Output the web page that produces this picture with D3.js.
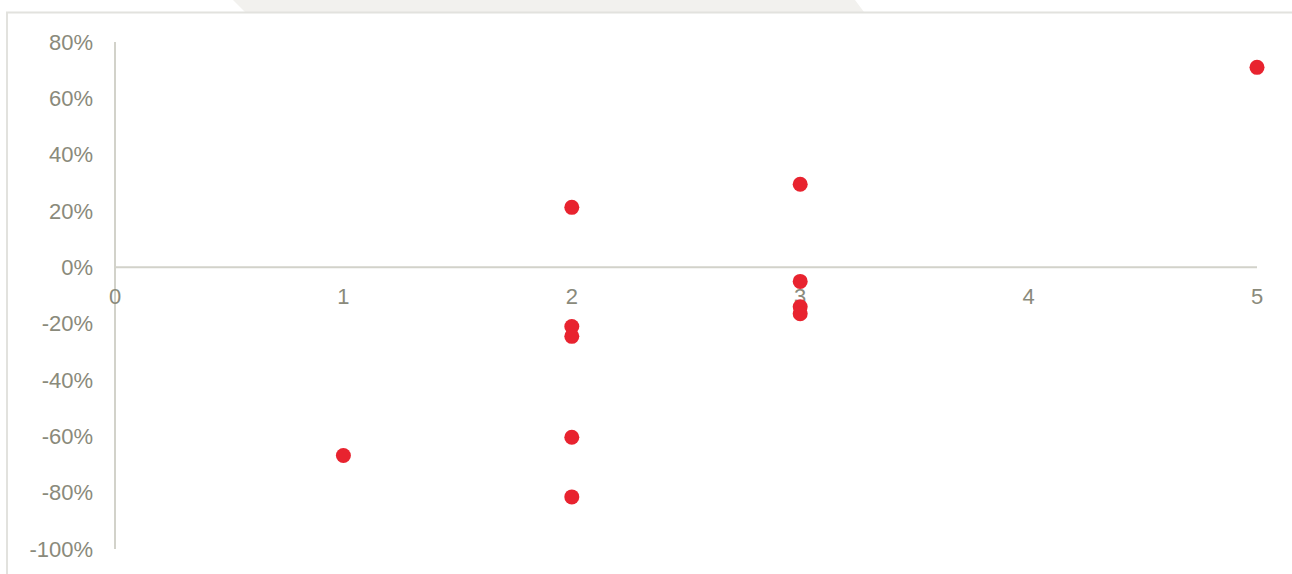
<!DOCTYPE html>
<html><head><meta charset="utf-8">
<script src="https://cdn.jsdelivr.net/npm/d3@7"></script>
<style>body{margin:0;background:#fff}svg{display:block}</style>
</head><body>
<script>
const xValues = [5, 3, 2, 3, 3, 3, 2, 2, 2, 2, 1];
const yValues = [0.71, 0.295, 0.213, -0.05, -0.14, -0.165, -0.21, -0.245, -0.603, -0.815, -0.668];
const xTicks = [0, 1, 2, 3, 4, 5];
const yTicks = [0.8, 0.6, 0.4, 0.2, 0, -0.2, -0.4, -0.6, -0.8, -1.0];

const W = 1292, H = 574;
const svg = d3.select("body").append("svg").attr("width", W).attr("height", H);

// frame decoration
svg.append("path").attr("d", "M233,0 L855,0 L864,12 L245,12 Z").attr("fill", "#f2f1ee");
svg.append("path").attr("d", "M7,574 L7,12.5 L1292,12.5").attr("fill", "none").attr("stroke", "#e2e2de").attr("stroke-width", 2);

const x = d3.scaleLinear().domain([0, 5]).range([115, 1257]);
const y = d3.scaleLinear().domain([-1, 0.8]).range([549, 42]);

const textColor = "#8a8a7b", lineColor = "#d2d2ca";
const font = "Liberation Sans, Arial, sans-serif";

svg.append("line").attr("x1", x(0)).attr("x2", x(0)).attr("y1", y(0.8)).attr("y2", y(-1))
  .attr("stroke", lineColor).attr("stroke-width", 2);
svg.append("line").attr("x1", x(0)).attr("x2", x(5)).attr("y1", y(0)).attr("y2", y(0))
  .attr("stroke", lineColor).attr("stroke-width", 2);

svg.selectAll(".yl").data(yTicks).enter().append("text")
  .attr("x", 93).attr("y", d => y(d)).attr("dy", "0.35em")
  .attr("text-anchor", "end").attr("fill", textColor)
  .attr("font-family", font).attr("font-size", 22)
  .text(d => d3.format(".0%")(d).replace("−", "-"));

svg.selectAll(".xl").data(xTicks).enter().append("text")
  .attr("x", d => x(d)).attr("y", y(0) + 29).attr("dy", "0.35em")
  .attr("text-anchor", "middle").attr("fill", textColor)
  .attr("font-family", font).attr("font-size", 22)
  .text(d => d);

svg.selectAll("circle").data(xValues.map((v, i) => [v, yValues[i]])).enter().append("circle")
  .attr("cx", d => x(d[0])).attr("cy", d => y(d[1])).attr("r", 7.5)
  .attr("fill", "#e8232f");
</script>
</body></html>
